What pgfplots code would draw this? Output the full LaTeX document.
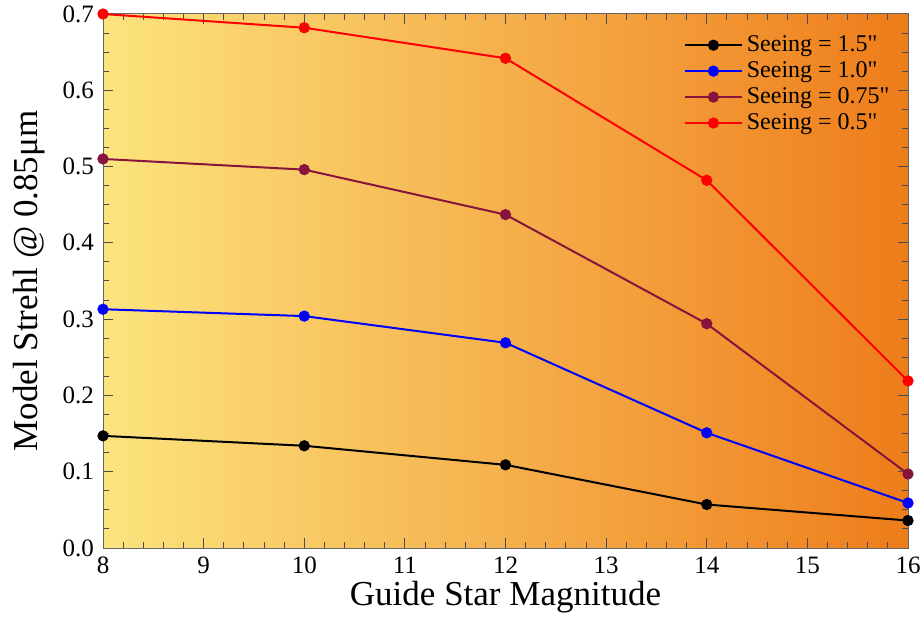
\documentclass[border=0pt]{standalone}
\usepackage{fontspec}
\setmainfont{Liberation Serif}
\usepackage{pgfplots}
\pgfplotsset{compat=1.18}
\definecolor{bgleft}{RGB}{252,228,126}
\definecolor{bgright}{RGB}{238,124,26}
\definecolor{cpurple}{RGB}{135,20,60}
\begin{document}
\begin{tikzpicture}
\begin{axis}[
  scale only axis,
  width=402.5pt, height=267pt,
  xmin=8, xmax=16, ymin=0, ymax=0.7,
  xtick={8,...,16},
  ytick={0,0.1,...,0.7},
  yticklabel style={/pgf/number format/fixed,/pgf/number format/fixed zerofill,/pgf/number format/precision=1, xshift=-1pt},
  minor x tick num=4,
  minor y tick num=3,
  tick align=inside,
  major tick length=5pt, minor tick length=3pt,
  tick style={black!70, line width=0.5pt},
  axis line style={black!60, line width=0.5pt},
  /pgf/number format/assume math mode=true,
  tick label style={font=\fontsize{12.5}{14}\selectfont},
  xticklabel style={yshift=-1pt},
  xlabel={Guide Star Magnitude},
  ylabel={Model Strehl @ 0.85μm},
  label style={font=\fontsize{17.5}{20}\selectfont},
  xlabel style={yshift=3pt},
  ylabel style={yshift=2pt},
  axis background/.style={left color=bgleft, right color=bgright},
  legend style={draw=none, fill=none, at={(0.99,0.975)}, anchor=north east,
    font=\fontsize{12}{13.5}\selectfont, row sep=-0.5pt},
  legend cell align=left,
  legend image code/.code={
    \draw[#1, line width=1pt] (0cm,0cm) -- (1cm,0cm);
    \draw[#1, mark repeat=1, mark phase=1] plot coordinates {(0.5cm,0cm)};
  },
  every axis plot/.append style={line width=1pt, mark=*, mark size=2.3pt},
]
\addplot[black, mark options={fill=black}] coordinates {(8,0.147) (10,0.134) (12,0.109) (14,0.057) (16,0.036)};
\addlegendentry{Seeing = 1.5\textquotedbl}
\addplot[blue, mark options={fill=blue}] coordinates {(8,0.313) (10,0.304) (12,0.269) (14,0.151) (16,0.059)};
\addlegendentry{Seeing = 1.0\textquotedbl}
\addplot[cpurple, mark options={fill=cpurple}] coordinates {(8,0.510) (10,0.496) (12,0.437) (14,0.294) (16,0.097)};
\addlegendentry{Seeing = 0.75\textquotedbl}
\addplot[red, mark options={fill=red}] coordinates {(8,0.700) (10,0.682) (12,0.642) (14,0.482) (16,0.219)};
\addlegendentry{Seeing = 0.5\textquotedbl}
\end{axis}
\pgfresetboundingbox
\useasboundingbox ([shift={(-51.5pt,-38pt)}]current axis.south west) rectangle ([shift={(7pt,7pt)}]current axis.north east);
\end{tikzpicture}
\end{document}
